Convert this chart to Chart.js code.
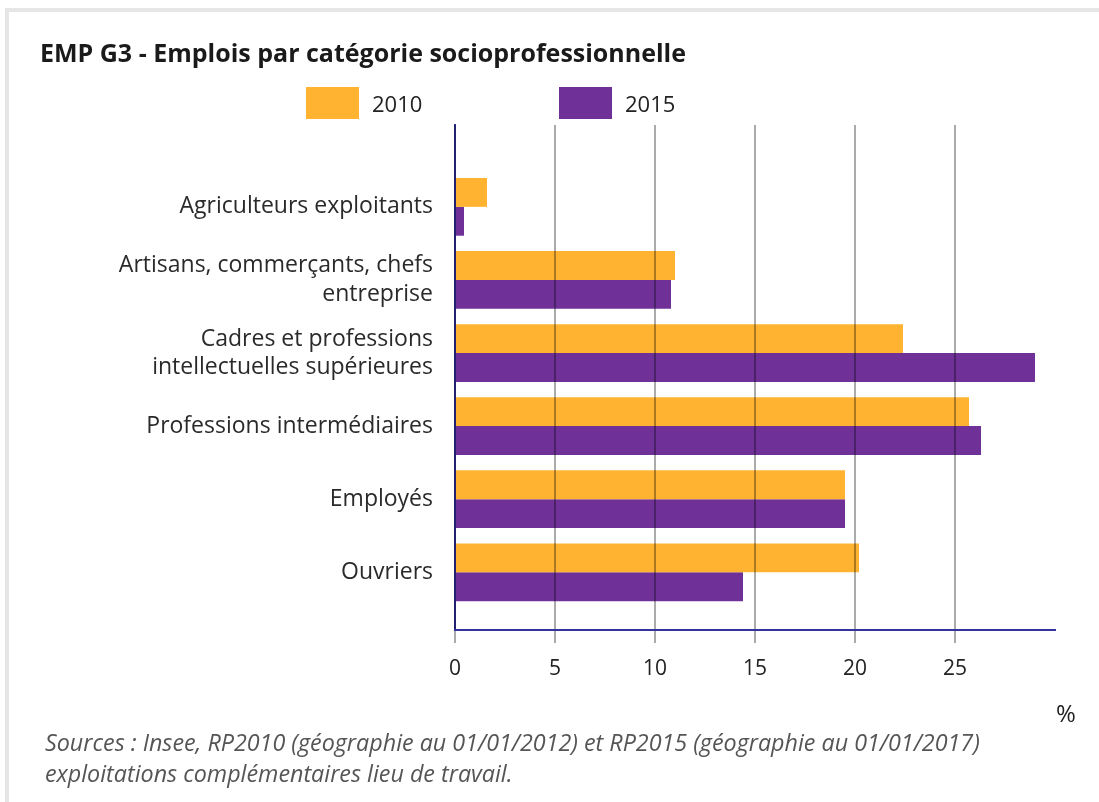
<!DOCTYPE html>
<html lang="fr">
<head>
<meta charset="utf-8">
<title>EMP G3 - Emplois par catégorie socioprofessionnelle</title>
<script src="https://cdn.jsdelivr.net/npm/chart.js@4.4.1/dist/chart.umd.min.js"></script>
<style>
  html, body { margin: 0; padding: 0; background: #fff; }
  body { width: 1099px; height: 802px; position: relative; overflow: hidden; font-family: "Open Sans", sans-serif; color: #222; }
  #frame { position: absolute; left: 5px; top: 8px; right: 0; bottom: 0; border-top: 4px solid #e6e6e6; border-left: 4px solid #e6e6e6; }
  #wrap { position: absolute; left: 0; top: 0; width: 1099px; height: 802px; }
  #legend { position: absolute; left: 0; top: 0; }
  .lg-item { position: absolute; top: 87px; height: 32px; display: flex; align-items: center; font-size: 22px; color: #222; }
  .lg-box { width: 53px; height: 32px; margin-right: 13px; }
  #unit { position: absolute; left: 1056px; top: 696px; font-size: 24px; color: #222; }
  #source { position: absolute; left: 45px; top: 727px; font-size: 23.3px; line-height: 31px; font-style: italic; color: #555; }
</style>
</head>
<body>
<div id="frame"></div>
<div id="wrap"><canvas id="empChart" width="1099" height="802"></canvas></div>
<div id="legend"></div>
<div id="unit">%</div>
<div id="source">Sources : Insee, RP2010 (géographie au 01/01/2012) et RP2015 (géographie au 01/01/2017)<br>exploitations complémentaires lieu de travail.</div>
<script>
const categories = [
    ['Agriculteurs exploitants'],
    ['Artisans, commerçants, chefs', 'entreprise'],
    ['Cadres et professions', 'intellectuelles supérieures'],
    ['Professions intermédiaires'],
    ['Employés'],
    ['Ouvriers'],
];
const seriesLabels = ['2010', '2015'];
const values2010 = [1.6, 11.0, 22.4, 25.7, 19.5, 20.2];
const values2015 = [0.45, 10.8, 29.0, 26.3, 19.5, 14.4];
const xTicks = [0, 5, 10, 15, 20, 25];

const ORANGE = '#ffb330';
const PURPLE = '#6f3198';
const AXIS = '#3532a0';
const GRID = 'rgba(0,0,0,0.33)';

const toPoints = (vals) => vals.map((v, i) => ({ x: v, y: i }));

const datasets = [
    { label: seriesLabels[0], data: toPoints(values2010), backgroundColor: ORANGE },
    { label: seriesLabels[1], data: toPoints(values2015), backgroundColor: PURPLE },
];

// legend in html, built from the datasets
const legendPos = [306, 559];
const legend = document.getElementById('legend');
datasets.forEach((ds, i) => {
    const item = document.createElement('div');
    item.className = 'lg-item';
    item.style.left = legendPos[i] + 'px';
    item.innerHTML = '<span class="lg-box" style="background:' + ds.backgroundColor + '"></span>' + ds.label;
    legend.appendChild(item);
});

const ctx = document.getElementById('empChart');
new Chart(ctx, {
    type: 'bar',
    data: { datasets },
    options: {
        indexAxis: 'y',
        responsive: false,
        animation: false,
        categoryPercentage: 0.79,
        barPercentage: 1,
        layout: { padding: { left: 40, right: 44, top: 0, bottom: 122 } },
        plugins: {
            legend: { display: false },
            tooltip: { enabled: false },
            title: {
                display: true,
                text: 'EMP G3 - Emplois par catégorie socioprofessionnelle',
                align: 'start',
                color: '#1a1a1a',
                font: { family: 'Open Sans', size: 25, weight: 'bold', lineHeight: 1.2 },
                padding: { top: 40, bottom: 55 },
            },
        },
        scales: {
            x: {
                type: 'linear',
                min: 0,
                max: 30,
                afterFit: (scale) => { scale.height = 50; },
                ticks: {
                    stepSize: 5,
                    padding: 13,
                    color: '#222',
                    font: { family: 'Open Sans', size: 21 },
                    callback: (v) => xTicks.includes(v) ? String(v) : '',
                },
                grid: {
                    z: 1,
                    color: (c) => xTicks.includes(c.tick.value) ? GRID : 'transparent',
                    tickColor: (c) => xTicks.includes(c.tick.value) ? GRID : 'transparent',
                    tickLength: 13,
                    lineWidth: 2,
                },
                border: { display: true, color: AXIS, width: 2, z: 1 },
            },
            y: {
                type: 'linear',
                offset: false,
                reverse: true,
                min: -1.12,
                max: 5.79,
                afterFit: (scale) => { scale.width = 415; },
                ticks: {
                    stepSize: 1,
                    autoSkip: false,
                    padding: 22,
                    color: '#2a2a2a',
                    font: { family: 'Open Sans', size: 23, lineHeight: 1.22 },
                    callback: (v) => (Number.isInteger(v) && v >= 0 && v < categories.length) ? categories[v] : null,
                },
                grid: { display: false, drawTicks: false },
                border: { display: true, color: AXIS, width: 2 },
            },
        },
    },
});
</script>
</body>
</html>
